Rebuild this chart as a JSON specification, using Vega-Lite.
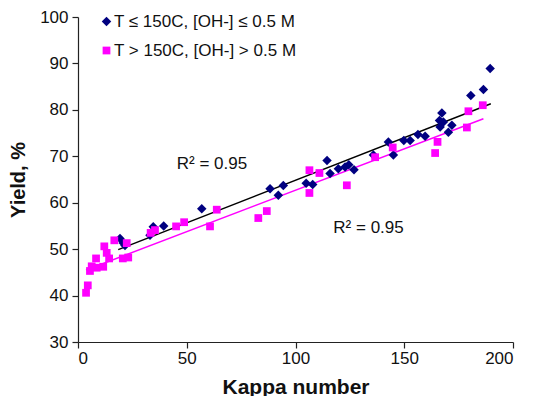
{
  "$schema": "https://vega.github.io/schema/vega-lite/v6.json",
  "width": 435,
  "height": 325,
  "autosize": "none",
  "padding": {"left": 78, "top": 17, "right": 22, "bottom": 54},
  "background": "white",
  "config": {
    "view": {"stroke": null},
    "font": "Liberation Sans",
    "axis": {
      "grid": false,
      "domainColor": "#222222",
      "tickColor": "#222222",
      "labelColor": "#111111",
      "titleColor": "#111111",
      "labelFont": "Liberation Sans",
      "titleFont": "Liberation Sans",
      "labelFontSize": 17,
      "titleFontSize": 20,
      "titleFontWeight": "bold",
      "tickSize": 6,
      "domainWidth": 1.2,
      "tickWidth": 1.2
    }
  },
  "datasets": {
    "points": [
      {"kappa": 19.3, "yield": 52.3, "series": "T ≤ 150C, [OH-] ≤ 0.5 M"},
      {"kappa": 20.8, "yield": 51.3, "series": "T ≤ 150C, [OH-] ≤ 0.5 M"},
      {"kappa": 21.6, "yield": 50.8, "series": "T ≤ 150C, [OH-] ≤ 0.5 M"},
      {"kappa": 33.1, "yield": 53.0, "series": "T ≤ 150C, [OH-] ≤ 0.5 M"},
      {"kappa": 34.6, "yield": 54.8, "series": "T ≤ 150C, [OH-] ≤ 0.5 M"},
      {"kappa": 39.4, "yield": 55.0, "series": "T ≤ 150C, [OH-] ≤ 0.5 M"},
      {"kappa": 56.9, "yield": 58.7, "series": "T ≤ 150C, [OH-] ≤ 0.5 M"},
      {"kappa": 88.3, "yield": 63.0, "series": "T ≤ 150C, [OH-] ≤ 0.5 M"},
      {"kappa": 92.1, "yield": 61.6, "series": "T ≤ 150C, [OH-] ≤ 0.5 M"},
      {"kappa": 94.4, "yield": 63.7, "series": "T ≤ 150C, [OH-] ≤ 0.5 M"},
      {"kappa": 104.9, "yield": 64.2, "series": "T ≤ 150C, [OH-] ≤ 0.5 M"},
      {"kappa": 107.9, "yield": 63.9, "series": "T ≤ 150C, [OH-] ≤ 0.5 M"},
      {"kappa": 114.5, "yield": 69.1, "series": "T ≤ 150C, [OH-] ≤ 0.5 M"},
      {"kappa": 115.9, "yield": 66.3, "series": "T ≤ 150C, [OH-] ≤ 0.5 M"},
      {"kappa": 119.7, "yield": 67.3, "series": "T ≤ 150C, [OH-] ≤ 0.5 M"},
      {"kappa": 122.8, "yield": 67.7, "series": "T ≤ 150C, [OH-] ≤ 0.5 M"},
      {"kappa": 124.5, "yield": 68.2, "series": "T ≤ 150C, [OH-] ≤ 0.5 M"},
      {"kappa": 126.9, "yield": 67.1, "series": "T ≤ 150C, [OH-] ≤ 0.5 M"},
      {"kappa": 135.8, "yield": 70.3, "series": "T ≤ 150C, [OH-] ≤ 0.5 M"},
      {"kappa": 142.7, "yield": 73.1, "series": "T ≤ 150C, [OH-] ≤ 0.5 M"},
      {"kappa": 145.0, "yield": 70.3, "series": "T ≤ 150C, [OH-] ≤ 0.5 M"},
      {"kappa": 149.8, "yield": 73.4, "series": "T ≤ 150C, [OH-] ≤ 0.5 M"},
      {"kappa": 152.7, "yield": 73.4, "series": "T ≤ 150C, [OH-] ≤ 0.5 M"},
      {"kappa": 156.3, "yield": 74.7, "series": "T ≤ 150C, [OH-] ≤ 0.5 M"},
      {"kappa": 159.6, "yield": 74.3, "series": "T ≤ 150C, [OH-] ≤ 0.5 M"},
      {"kappa": 166.5, "yield": 76.3, "series": "T ≤ 150C, [OH-] ≤ 0.5 M"},
      {"kappa": 167.3, "yield": 79.3, "series": "T ≤ 150C, [OH-] ≤ 0.5 M"},
      {"kappa": 166.2, "yield": 77.7, "series": "T ≤ 150C, [OH-] ≤ 0.5 M"},
      {"kappa": 168.0, "yield": 77.4, "series": "T ≤ 150C, [OH-] ≤ 0.5 M"},
      {"kappa": 170.3, "yield": 75.2, "series": "T ≤ 150C, [OH-] ≤ 0.5 M"},
      {"kappa": 171.9, "yield": 76.7, "series": "T ≤ 150C, [OH-] ≤ 0.5 M"},
      {"kappa": 180.6, "yield": 83.1, "series": "T ≤ 150C, [OH-] ≤ 0.5 M"},
      {"kappa": 186.4, "yield": 84.4, "series": "T ≤ 150C, [OH-] ≤ 0.5 M"},
      {"kappa": 189.5, "yield": 88.9, "series": "T ≤ 150C, [OH-] ≤ 0.5 M"},
      {"kappa": 3.7, "yield": 40.6, "series": "T > 150C, [OH-] > 0.5 M"},
      {"kappa": 4.5, "yield": 42.2, "series": "T > 150C, [OH-] > 0.5 M"},
      {"kappa": 5.5, "yield": 45.3, "series": "T > 150C, [OH-] > 0.5 M"},
      {"kappa": 6.3, "yield": 46.3, "series": "T > 150C, [OH-] > 0.5 M"},
      {"kappa": 8.3, "yield": 48.0, "series": "T > 150C, [OH-] > 0.5 M"},
      {"kappa": 8.6, "yield": 46.0, "series": "T > 150C, [OH-] > 0.5 M"},
      {"kappa": 11.6, "yield": 46.2, "series": "T > 150C, [OH-] > 0.5 M"},
      {"kappa": 12.1, "yield": 50.6, "series": "T > 150C, [OH-] > 0.5 M"},
      {"kappa": 13.2, "yield": 49.2, "series": "T > 150C, [OH-] > 0.5 M"},
      {"kappa": 14.3, "yield": 48.0, "series": "T > 150C, [OH-] > 0.5 M"},
      {"kappa": 16.7, "yield": 51.9, "series": "T > 150C, [OH-] > 0.5 M"},
      {"kappa": 20.6, "yield": 48.0, "series": "T > 150C, [OH-] > 0.5 M"},
      {"kappa": 23.1, "yield": 48.2, "series": "T > 150C, [OH-] > 0.5 M"},
      {"kappa": 22.4, "yield": 51.3, "series": "T > 150C, [OH-] > 0.5 M"},
      {"kappa": 33.4, "yield": 53.5, "series": "T > 150C, [OH-] > 0.5 M"},
      {"kappa": 35.4, "yield": 54.1, "series": "T > 150C, [OH-] > 0.5 M"},
      {"kappa": 45.1, "yield": 54.9, "series": "T > 150C, [OH-] > 0.5 M"},
      {"kappa": 48.8, "yield": 55.8, "series": "T > 150C, [OH-] > 0.5 M"},
      {"kappa": 60.7, "yield": 54.9, "series": "T > 150C, [OH-] > 0.5 M"},
      {"kappa": 63.8, "yield": 58.5, "series": "T > 150C, [OH-] > 0.5 M"},
      {"kappa": 82.9, "yield": 56.7, "series": "T > 150C, [OH-] > 0.5 M"},
      {"kappa": 86.8, "yield": 58.2, "series": "T > 150C, [OH-] > 0.5 M"},
      {"kappa": 106.4, "yield": 67.0, "series": "T > 150C, [OH-] > 0.5 M"},
      {"kappa": 111.0, "yield": 66.4, "series": "T > 150C, [OH-] > 0.5 M"},
      {"kappa": 106.4, "yield": 62.1, "series": "T > 150C, [OH-] > 0.5 M"},
      {"kappa": 123.6, "yield": 63.75, "series": "T > 150C, [OH-] > 0.5 M"},
      {"kappa": 136.6, "yield": 69.8, "series": "T > 150C, [OH-] > 0.5 M"},
      {"kappa": 144.7, "yield": 71.9, "series": "T > 150C, [OH-] > 0.5 M"},
      {"kappa": 165.3, "yield": 73.1, "series": "T > 150C, [OH-] > 0.5 M"},
      {"kappa": 164.2, "yield": 70.7, "series": "T > 150C, [OH-] > 0.5 M"},
      {"kappa": 178.8, "yield": 76.2, "series": "T > 150C, [OH-] > 0.5 M"},
      {"kappa": 179.5, "yield": 79.7, "series": "T > 150C, [OH-] > 0.5 M"},
      {"kappa": 186.1, "yield": 81.0, "series": "T > 150C, [OH-] > 0.5 M"}
    ],
    "trend": [
      {"kappa": 18.5, "yield": 49.9, "fit": "low"},
      {"kappa": 189.8, "yield": 81.3, "fit": "low"},
      {"kappa": 3.7, "yield": 45.5, "fit": "high"},
      {"kappa": 186.4, "yield": 78.1, "fit": "high"}
    ],
    "labels": [
      {"kappa": 45.4, "yield": 68.4, "text": "R² = 0.95"},
      {"kappa": 117.4, "yield": 54.55, "text": "R² = 0.95"}
    ]
  },
  "encoding": {
    "x": {
      "field": "kappa", "type": "quantitative",
      "scale": {"domain": [0, 200], "nice": false, "zero": false},
      "axis": {"values": [0, 50, 100, 150, 200], "title": "Kappa number", "labelPadding": 2, "titleX": 217.5, "titleY": 51, "titleBaseline": "alphabetic", "titleAlign": "center", "titleFontSize": 21}
    },
    "y": {
      "field": "yield", "type": "quantitative",
      "scale": {"domain": [30, 100], "nice": false, "zero": false},
      "axis": {"values": [30, 40, 50, 60, 70, 80, 90, 100], "title": "Yield, %", "labelPadding": 4, "titleX": -60, "titleY": 162.5, "titleAngle": -90, "titleBaseline": "middle", "titleAlign": "center"}
    }
  },
  "layer": [
    {
      "data": {"name": "trend"},
      "mark": {"type": "line", "strokeWidth": 1.5},
      "encoding": {
        "detail": {"field": "fit", "type": "nominal"},
        "stroke": {
          "field": "fit", "type": "nominal",
          "scale": {"domain": ["low", "high"], "range": ["#000000", "#FF00FF"]},
          "legend": null
        }
      }
    },
    {
      "data": {"name": "points"},
      "mark": {"type": "point", "filled": true, "opacity": 1},
      "encoding": {
        "color": {
          "field": "series", "type": "nominal",
          "scale": {"domain": ["T ≤ 150C, [OH-] ≤ 0.5 M", "T > 150C, [OH-] > 0.5 M"], "range": ["#000080", "#FF00FF"]},
          "legend": {
            "title": null, "orient": "none", "legendX": 20, "legendY": -4,
            "labelFontSize": 17, "labelFont": "Liberation Sans", "labelColor": "#111111", "labelLimit": 0,
            "symbolSize": 40, "labelOffset": -1, "rowPadding": 11, "padding": 0
          }
        },
        "shape": {
          "field": "series", "type": "nominal",
          "scale": {"domain": ["T ≤ 150C, [OH-] ≤ 0.5 M", "T > 150C, [OH-] > 0.5 M"], "range": ["diamond", "square"]},
          "legend": {
            "title": null, "orient": "none", "legendX": 20, "legendY": -4,
            "labelFontSize": 17, "labelFont": "Liberation Sans", "labelColor": "#111111", "labelLimit": 0,
            "symbolSize": 40, "labelOffset": -1, "rowPadding": 11, "padding": 0
          }
        },
        "size": {
          "field": "series", "type": "nominal",
          "scale": {"domain": ["T ≤ 150C, [OH-] ≤ 0.5 M", "T > 150C, [OH-] > 0.5 M"], "range": [90, 60]},
          "legend": null
        }
      }
    },
    {
      "data": {"name": "labels"},
      "mark": {"type": "text", "align": "left", "baseline": "middle", "fontSize": 17, "font": "Liberation Sans", "color": "#111111"},
      "encoding": {"text": {"field": "text", "type": "nominal"}}
    }
  ]
}
